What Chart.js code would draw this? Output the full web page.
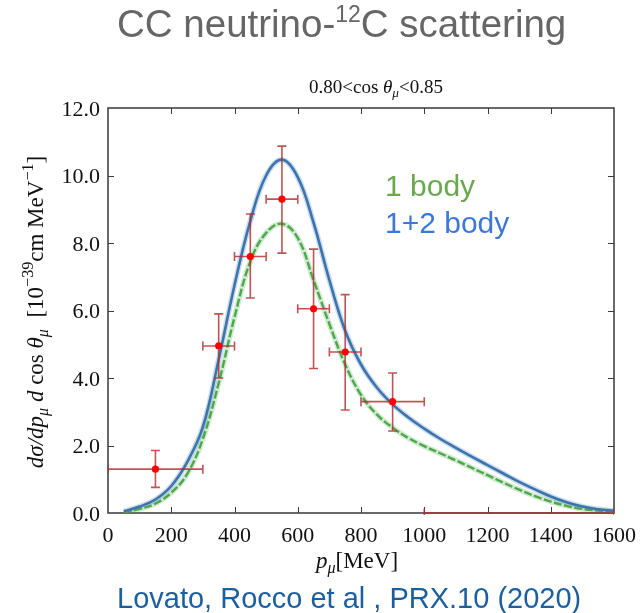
<!DOCTYPE html>
<html>
<head>
<meta charset="utf-8">
<script src="https://cdn.jsdelivr.net/npm/chart.js@4.4.1/dist/chart.umd.min.js"></script>
<style>
  html, body { margin: 0; padding: 0; background: #fff; }
</style>
</head>
<body>
<canvas id="chart" width="644" height="613"></canvas>
<script>
// theory curves, p_mu in MeV
const momentum = [50, 100, 150, 200, 250, 300, 350, 400, 450, 500, 550, 600, 650, 700, 750, 800,
  850, 900, 950, 1000, 1050, 1100, 1150, 1200, 1250, 1300, 1350, 1400, 1450, 1500, 1550, 1600];
const oneTwoBody = [0.05, 0.19, 0.4, 0.8, 1.5, 2.55, 4.55, 6.75, 8.65, 10.0, 10.47, 9.95, 8.6, 6.9, 5.4, 4.4,
  3.72, 3.22, 2.83, 2.5, 2.2, 1.93, 1.67, 1.42, 1.17, 0.92, 0.7, 0.49, 0.32, 0.19, 0.11, 0.06];
const oneBody = [0.02, 0.12, 0.28, 0.6, 1.15, 2.2, 3.85, 5.8, 7.45, 8.3, 8.57, 8.15, 6.9, 5.6, 4.4, 3.5,
  2.92, 2.53, 2.22, 1.98, 1.77, 1.56, 1.34, 1.12, 0.9, 0.69, 0.5, 0.34, 0.21, 0.12, 0.07, 0.04];

// measured points (MiniBooNE bins)
const binCenter = [150, 350, 450, 550, 650, 750, 900, 1300];
const binLow = [0, 300, 400, 500, 600, 700, 800, 1000];
const binHigh = [300, 400, 500, 600, 700, 800, 1000, 1600];
const xsec = [1.3, 4.95, 7.6, 9.3, 6.05, 4.77, 3.3, 0];
const xsecLow = [0.76, 4.0, 6.37, 7.7, 4.28, 3.05, 2.43, 0];
const xsecHigh = [1.85, 5.9, 8.86, 10.87, 7.82, 6.47, 4.15, 0];

const xTickValues = [0, 200, 400, 600, 800, 1000, 1200, 1400, 1600];
const xTickLabels = ['0', '200', '400', '600', '800', '1000', '1200', '1400', '1600'];
const yTickValues = [0, 2, 4, 6, 8, 10, 12];
const yTickLabels = ['0.0', '2.0', '4.0', '6.0', '8.0', '10.0', '12.0'];

const SERIF = '"Liberation Serif", "DejaVu Serif", serif';
const SANS = '"Liberation Sans", Arimo, Arial, sans-serif';

// draws a line of "math" text; kinds: r roman, i italic, sub (italic subscript), sup (roman superscript)
function drawRich(ctx, parts, x, y, size, align) {
  const pieces = parts.map(([t, k]) => {
    const small = k === 'sub' || k === 'sup';
    const italic = k === 'i' || k === 'sub';
    const font = (italic ? 'italic ' : '') + (small ? size * 0.7 : size) + 'px ' + SERIF;
    ctx.font = font;
    const dy = k === 'sub' ? size * 0.22 : k === 'sup' ? -size * 0.42 : 0;
    return { t, font, dy, w: ctx.measureText(t).width };
  });
  const total = pieces.reduce((s, p) => s + p.w, 0);
  let cx = align === 'center' ? x - total / 2 : x;
  ctx.textAlign = 'left';
  ctx.textBaseline = 'alphabetic';
  pieces.forEach((p) => {
    ctx.font = p.font;
    ctx.fillText(p.t, cx, y + p.dy);
    cx += p.w;
  });
}

const decorPlugin = {
  id: 'decor',
  beforeDatasetsDraw(chart) {
    const { ctx, chartArea: a, scales: { x, y } } = chart;
    ctx.save();
    ctx.strokeStyle = '#3a3a3a';
    ctx.lineWidth = 1;
    ctx.beginPath();
    x.ticks.forEach((t) => {
      const px = Math.round(x.getPixelForValue(t.value)) + 0.5;
      if (px <= a.left + 1 || px >= a.right - 1) return;
      ctx.moveTo(px, a.bottom); ctx.lineTo(px, a.bottom - 6);
      ctx.moveTo(px, a.top); ctx.lineTo(px, a.top + 6);
    });
    y.ticks.forEach((t) => {
      const py = Math.round(y.getPixelForValue(t.value)) + 0.5;
      if (py <= a.top + 1 || py >= a.bottom - 1) return;
      ctx.moveTo(a.left, py); ctx.lineTo(a.left + 6, py);
      ctx.moveTo(a.right, py); ctx.lineTo(a.right - 6, py);
    });
    ctx.stroke();
    ctx.lineWidth = 1.6;
    ctx.strokeStyle = '#444';
    ctx.strokeRect(a.left, a.top, a.right - a.left, a.bottom - a.top);
    ctx.restore();
  },
  beforeDatasetDraw(chart, args) {
    if (args.index !== 0) return;
    const { ctx, chartArea: a, scales: { x, y } } = chart;
    ctx.save();
    ctx.beginPath();
    ctx.rect(a.left, a.top - 2, a.right - a.left, a.bottom - a.top + 4);
    ctx.clip();
    ctx.strokeStyle = 'rgba(176, 40, 44, 0.8)';
    ctx.lineWidth = 1.6;
    const cap = 4.5;
    binCenter.forEach((c, i) => {
      const px = x.getPixelForValue(c);
      const py = y.getPixelForValue(xsec[i]);
      const x0 = x.getPixelForValue(binLow[i]);
      const x1 = x.getPixelForValue(binHigh[i]);
      ctx.beginPath();
      ctx.moveTo(x0, py); ctx.lineTo(x1, py);
      ctx.moveTo(x0, py - cap); ctx.lineTo(x0, py + cap);
      ctx.moveTo(x1, py - cap); ctx.lineTo(x1, py + cap);
      if (xsecHigh[i] > xsecLow[i]) {
        const y0 = y.getPixelForValue(xsecLow[i]);
        const y1 = y.getPixelForValue(xsecHigh[i]);
        ctx.moveTo(px, y0); ctx.lineTo(px, y1);
        ctx.moveTo(px - cap, y0); ctx.lineTo(px + cap, y0);
        ctx.moveTo(px - cap, y1); ctx.lineTo(px + cap, y1);
      }
      ctx.stroke();
    });
    ctx.restore();
  },
  afterDraw(chart) {
    const { ctx, chartArea: a, scales: { x, y } } = chart;
    ctx.save();
    ctx.fillStyle = '#111';

    // tick labels
    ctx.font = '22px ' + SERIF;
    ctx.textBaseline = 'alphabetic';
    ctx.textAlign = 'center';
    xTickValues.forEach((v, i) => ctx.fillText(xTickLabels[i], x.getPixelForValue(v), 542));
    ctx.textAlign = 'right';
    yTickValues.forEach((v, i) => ctx.fillText(yTickLabels[i], a.left - 8, y.getPixelForValue(v) + 7.5));

    // axis titles
    drawRich(ctx, [['p', 'i'], ['μ', 'sub'], ['[MeV]', 'r']], 357, 568, 23, 'center');
    ctx.save();
    ctx.translate(43, 312);
    ctx.rotate(-Math.PI / 2);
    drawRich(ctx, [['dσ/dp', 'i'], ['μ', 'sub'], [' d', 'i'], [' cos ', 'r'],
      ['θ', 'i'], ['μ', 'sub'], ['  [10', 'r'], ['−39', 'sup'], ['cm MeV', 'r'], ['−1', 'sup'], [']', 'r']], 0, 0, 23, 'center');
    ctx.restore();

    // subtitle
    drawRich(ctx, [['0.80<cos ', 'r'], ['θ', 'i'], ['μ', 'sub'], ['<0.85', 'r']], 376, 93, 19, 'center');

    // slide title
    ctx.fillStyle = '#666666';
    ctx.textAlign = 'left';
    ctx.font = '38.5px ' + SANS;
    let tx = 117;
    ctx.fillText('CC neutrino-', tx, 37);
    tx += ctx.measureText('CC neutrino-').width;
    ctx.font = '23px ' + SANS;
    ctx.fillText('12', tx, 22);
    tx += ctx.measureText('12').width;
    ctx.font = '38.5px ' + SANS;
    ctx.fillText('C scattering', tx, 37);

    // model labels
    ctx.font = '30px ' + SANS;
    ctx.fillStyle = '#6aa84f';
    ctx.fillText('1 body', 385, 196);
    ctx.fillStyle = '#3c78d8';
    ctx.fillText('1+2 body', 385, 233);

    // reference caption
    ctx.font = '29px ' + SANS;
    ctx.fillStyle = '#1c5f9f';
    ctx.fillText('Lovato, Rocco et al , PRX.10 (2020)', 117, 608);
    ctx.restore();
  }
};

const curve = (ys) => momentum.map((m, i) => ({ x: m, y: ys[i] }));

new Chart(document.getElementById('chart'), {
  type: 'line',
  data: {
    datasets: [
      {
        type: 'scatter',
        label: 'MiniBooNE',
        data: binCenter.map((c, i) => ({ x: c, y: xsec[i] })),
        pointRadius: (c) => (xsec[c.dataIndex] > 0 ? 3.6 : 0),
        pointBackgroundColor: '#ff0000',
        pointBorderWidth: 0,
        order: 0
      },
      {
        label: '1+2 body',
        data: curve(oneTwoBody),
        borderColor: '#3b75af',
        borderWidth: 2.6,
        pointRadius: 0,
        tension: 0.4,
        order: 1
      },
      {
        label: '1 body',
        data: curve(oneBody),
        borderColor: '#4da84a',
        borderWidth: 2.4,
        borderDash: [8, 2.5],
        pointRadius: 0,
        tension: 0.4,
        order: 1
      },
      {
        label: '1+2 body band',
        data: curve(oneTwoBody),
        borderColor: 'rgba(59, 117, 175, 0.25)',
        borderWidth: 5.5,
        pointRadius: 0,
        tension: 0.4,
        order: 2
      },
      {
        label: '1 body band',
        data: curve(oneBody),
        borderColor: 'rgba(77, 168, 74, 0.25)',
        borderWidth: 5.5,
        pointRadius: 0,
        tension: 0.4,
        order: 2
      }
    ]
  },
  options: {
    responsive: false,
    animation: false,
    layout: { padding: { top: 108, right: 30, left: 0, bottom: 0 } },
    plugins: { legend: { display: false }, tooltip: { enabled: false } },
    scales: {
      x: {
        type: 'linear', min: 0, max: 1600,
        afterBuildTicks: (s) => { s.ticks = xTickValues.map((v) => ({ value: v })); },
        afterFit: (s) => { s.height = 100; },
        ticks: { display: false },
        grid: { display: false, drawTicks: false },
        border: { display: false }
      },
      y: {
        type: 'linear', min: 0, max: 12,
        afterBuildTicks: (s) => { s.ticks = yTickValues.map((v) => ({ value: v })); },
        afterFit: (s) => { s.width = 108; },
        ticks: { display: false },
        grid: { display: false, drawTicks: false },
        border: { display: false }
      }
    }
  },
  plugins: [decorPlugin]
});
</script>
</body>
</html>
